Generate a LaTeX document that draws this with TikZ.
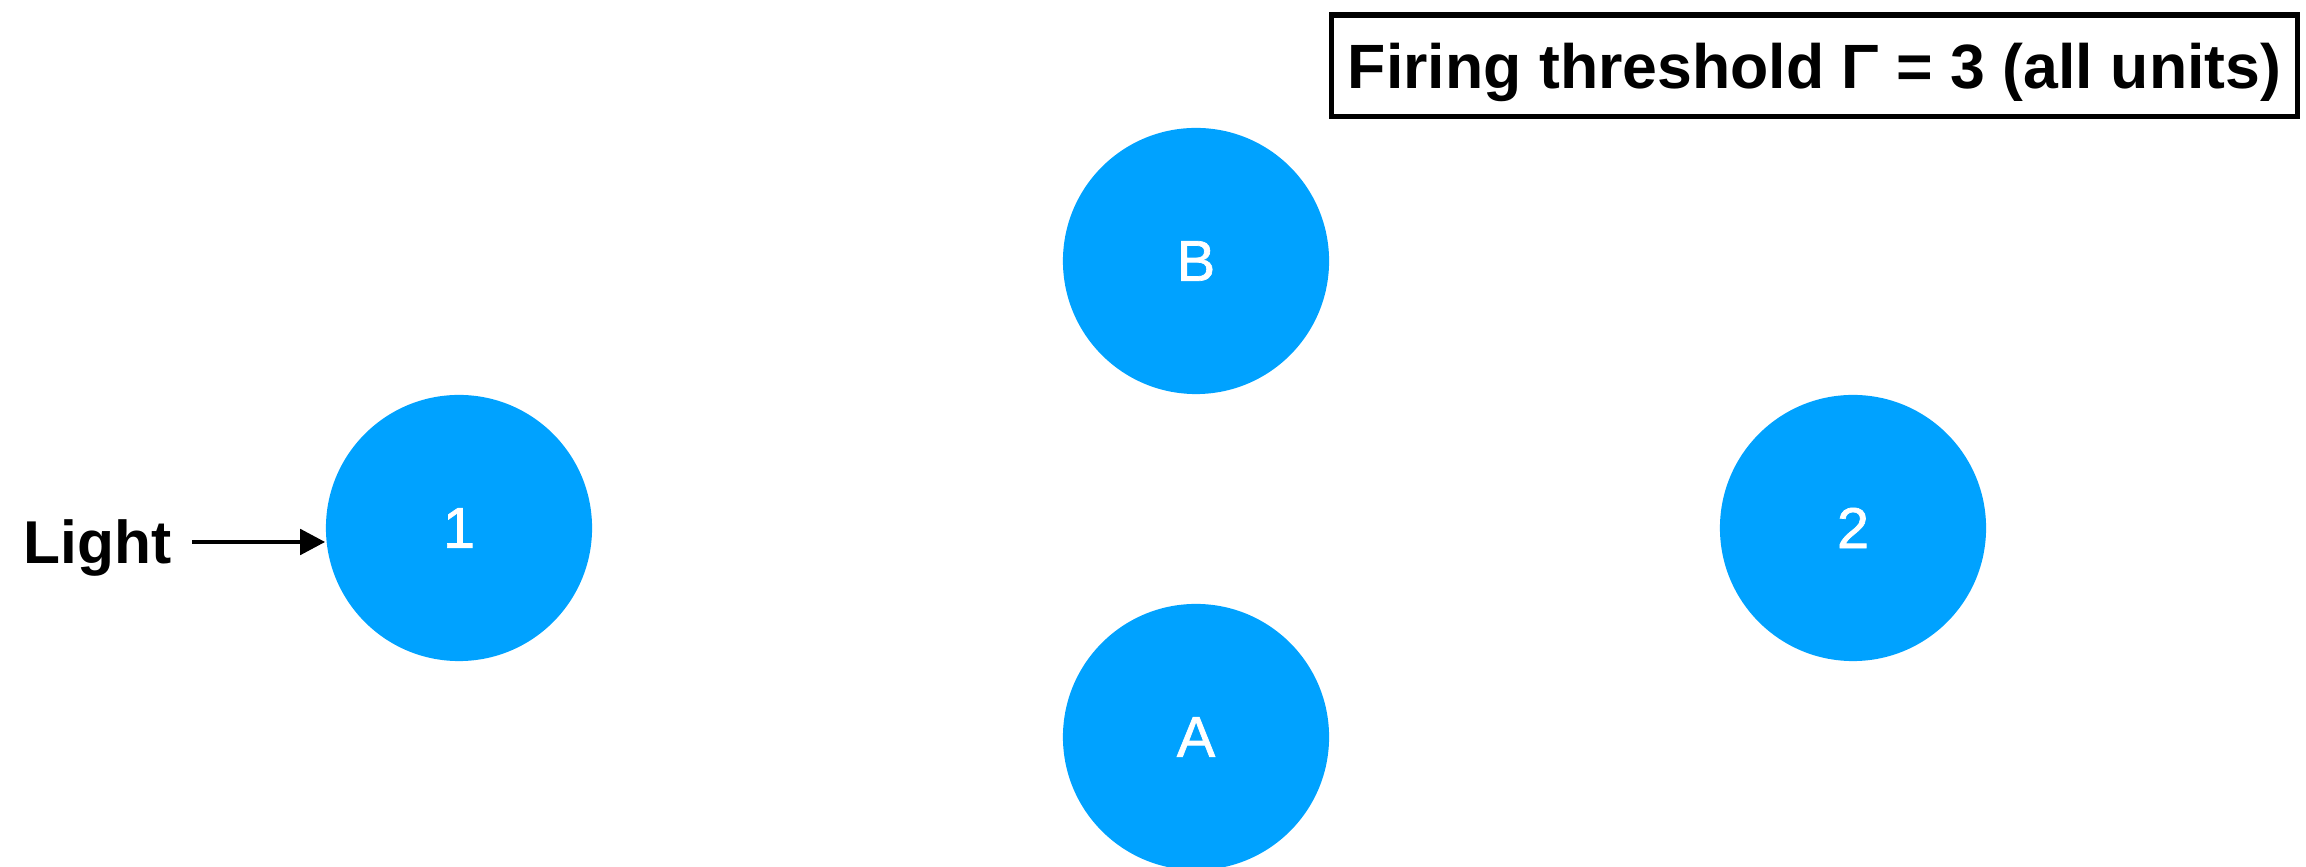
\documentclass[tikz,border=0pt]{standalone}
\usepackage{fontspec}
\setmainfont{Liberation Sans}
\newfontfamily\unitfont[FakeBold=1.2]{Liberation Sans}
\usetikzlibrary{arrows.meta}

\definecolor{unitblue}{RGB}{0,162,255}

\begin{document}
\begin{tikzpicture}[x=0.01cm, y=0.01cm]

  \tikzstyle{neuron} = [circle, fill=unitblue, minimum size=2.66cm, inner sep=0pt,
                        text=white, font=\unitfont\fontsize{16.4}{20}\selectfont]
  \tikzstyle{lbl}    = [inner sep=0pt, text depth=0pt, font=\fontsize{17.2}{20}\selectfont\bfseries]
  \tikzstyle{thr}    = [draw, line width=1.56pt, minimum width=9.65cm, minimum height=1.015cm,
                        inner sep=0pt, text depth=0pt, font=\fontsize{17.8}{20}\selectfont\bfseries]
  \tikzstyle{inp}    = [-{Triangle[length=0.25cm, width=0.25cm]}, line width=1.4pt]

  \useasboundingbox (0,0) rectangle (2306,867);

  % ---- UNITS ----
  \node[neuron] (n1) at (459,339)  {1};
  \node[neuron] (nB) at (1196,606) {B};
  \node[neuron] (nA) at (1196,130) {A};
  \node[neuron] (n2) at (1853,339) {2};

  % ---- INPUT ----
  \node[lbl, anchor=west] (light) at (23,325) {Light};
  \draw[inp] ([xshift=0.2cm]light.east) -- (light -| n1.west);

  % ---- THRESHOLD ----
  \node[thr] (gamma) at (1814.5,801.25) {Firing threshold Γ = 3 (all units)};

\end{tikzpicture}
\end{document}
